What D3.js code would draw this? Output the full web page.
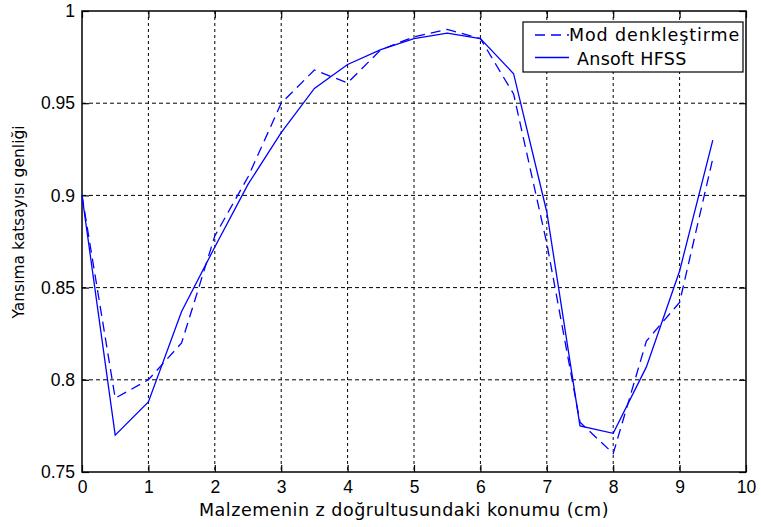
<!DOCTYPE html>
<html>
<head>
<meta charset="utf-8">
<script src="https://cdn.jsdelivr.net/npm/d3@7"></script>
<style>
  body { margin: 0; background: #fff; }
  svg { display: block; }
</style>
</head>
<body>
<svg id="chart"></svg>
<script>
// position along z (cm)
const positions = [0, 0.5, 1, 1.5, 2, 2.5, 3, 3.5, 4, 4.5, 5, 5.5, 6, 6.5, 7, 7.5, 8, 8.5, 9, 9.5];
// Mod denkleştirme (dashed)
const modValues = [0.900, 0.790, 0.800, 0.820, 0.878, 0.910, 0.950, 0.968, 0.961, 0.979, 0.986, 0.990, 0.985, 0.955, 0.874, 0.777, 0.760, 0.821, 0.842, 0.920];
// Ansoft HFSS (solid)
const hfssValues = [0.900, 0.770, 0.788, 0.837, 0.872, 0.906, 0.934, 0.958, 0.971, 0.979, 0.985, 0.988, 0.985, 0.966, 0.891, 0.775, 0.771, 0.807, 0.859, 0.930];

const xTicks = [0, 1, 2, 3, 4, 5, 6, 7, 8, 9, 10];
const yTicks = [0.75, 0.8, 0.85, 0.9, 0.95, 1];
const seriesNames = ["Mod denkleştirme", "Ansoft HFSS"];

const width = 761, height = 527;
const margin = { top: 11, right: 15, bottom: 55, left: 82 };
const innerW = width - margin.left - margin.right;
const innerH = height - margin.top - margin.bottom;

const svg = d3.select("#chart")
    .attr("width", width)
    .attr("height", height);

const x = d3.scaleLinear().domain([0, 10]).range([0, innerW]);
const y = d3.scaleLinear().domain([0.75, 1]).range([innerH, 0]);

const g = svg.append("g")
    .attr("transform", `translate(${margin.left},${margin.top})`);

// grid lines (dotted, black)
g.append("g").selectAll("line")
    .data(xTicks.slice(1, -1))
    .join("line")
    .attr("x1", d => x(d)).attr("x2", d => x(d))
    .attr("y1", 0).attr("y2", innerH)
    .attr("stroke", "#000")
    .attr("stroke-width", 1)
    .attr("stroke-dasharray", "3,3");

g.append("g").selectAll("line")
    .data(yTicks.slice(1, -1))
    .join("line")
    .attr("x1", 0).attr("x2", innerW)
    .attr("y1", d => y(d)).attr("y2", d => y(d))
    .attr("stroke", "#000")
    .attr("stroke-width", 1)
    .attr("stroke-dasharray", "4,3");

// axes with inward ticks on all sides
const tickLen = 7;
const tickFont = "'Liberation Sans', Arial, sans-serif";

const xAxis = g.append("g")
    .attr("transform", `translate(0,${innerH})`)
    .call(d3.axisBottom(x).tickValues(xTicks).tickSizeInner(-tickLen).tickSizeOuter(0).tickPadding(9).tickFormat(d3.format("d")));
const yAxis = g.append("g")
    .call(d3.axisLeft(y).tickValues(yTicks).tickSizeInner(-tickLen).tickSizeOuter(0).tickPadding(7).tickFormat(d => String(+d.toFixed(2))));
g.append("g")
    .call(d3.axisTop(x).tickValues(xTicks).tickSizeInner(-tickLen).tickSizeOuter(0).tickFormat(""));
g.append("g")
    .attr("transform", `translate(${innerW},0)`)
    .call(d3.axisRight(y).tickValues(yTicks).tickSizeInner(-tickLen).tickSizeOuter(0).tickFormat(""));

g.selectAll(".domain").remove();
g.selectAll(".tick line").attr("stroke", "#000").attr("stroke-width", 1.2);
[xAxis, yAxis].forEach(a => a.selectAll("text")
    .attr("fill", "#000")
    .style("font-family", tickFont)
    .style("font-size", "17.5px"));

// box
g.append("rect")
    .attr("x", 0).attr("y", 0)
    .attr("width", innerW).attr("height", innerH)
    .attr("fill", "none")
    .attr("stroke", "#000")
    .attr("stroke-width", 1.5);

// series
const line = d3.line()
    .x(d => x(d[0]))
    .y(d => y(d[1]));

g.append("path")
    .datum(positions.map((p, i) => [p, modValues[i]]))
    .attr("d", line)
    .attr("fill", "none")
    .attr("stroke", "#0000ff")
    .attr("stroke-width", 1.3)
    .attr("stroke-dasharray", "10,6");

g.append("path")
    .datum(positions.map((p, i) => [p, hfssValues[i]]))
    .attr("d", line)
    .attr("fill", "none")
    .attr("stroke", "#0000ff")
    .attr("stroke-width", 1.3);

// legend
const legend = svg.append("g");
legend.append("rect")
    .attr("x", 523).attr("y", 22)
    .attr("width", 220).attr("height", 50)
    .attr("fill", "#fff")
    .attr("stroke", "#000")
    .attr("stroke-width", 1.2);

const legendRows = [
    { name: seriesNames[0], dash: "10,6", ly: 35, tx: 569, ty: 40.5, ls: 0.9 },
    { name: seriesNames[1], dash: null, ly: 57.5, tx: 577, ty: 65, ls: 0.3 }
];
legendRows.forEach(r => {
    legend.append("line")
        .attr("x1", 535).attr("x2", 569)
        .attr("y1", r.ly).attr("y2", r.ly)
        .attr("stroke", "#0000ff")
        .attr("stroke-width", 1.3)
        .attr("stroke-dasharray", r.dash);
    legend.append("text")
        .attr("x", r.tx).attr("y", r.ty)
        .style("font-family", "'DejaVu Sans', sans-serif")
        .style("font-size", "17.5px")
        .style("letter-spacing", r.ls + "px")
        .text(r.name);
});

// axis labels
svg.append("text")
    .attr("x", 404).attr("y", 516)
    .attr("text-anchor", "middle")
    .style("font-family", "'DejaVu Sans', sans-serif")
    .style("font-size", "17.5px")
    .style("letter-spacing", "0.5px")
    .text("Malzemenin z doğrultusundaki konumu (cm)");

svg.append("text")
    .attr("transform", "translate(24,222) rotate(-90)")
    .attr("text-anchor", "middle")
    .style("font-family", "'DejaVu Sans', sans-serif")
    .style("font-size", "15.5px")
    .text("Yansıma katsayısı genliği");
</script>
</body>
</html>
